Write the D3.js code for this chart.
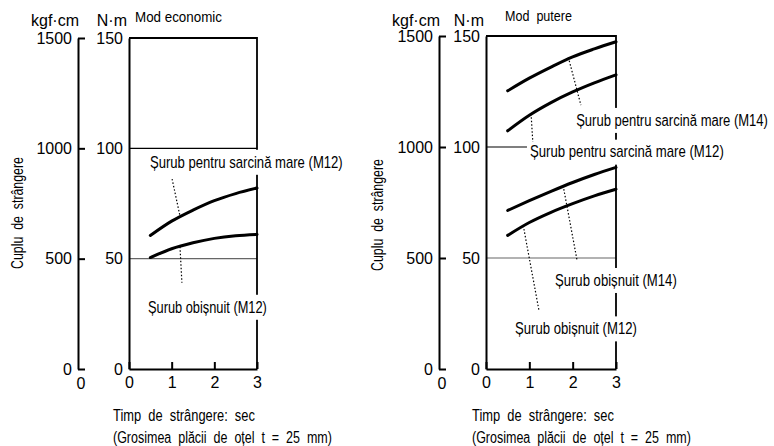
<!DOCTYPE html>
<html><head><meta charset="utf-8">
<script src="https://cdn.jsdelivr.net/npm/d3@7"></script>
<style>body{margin:0;background:#fff} svg{display:block} text{white-space:pre}</style>
</head><body>
<svg id="c" width="774" height="446"></svg>
<script>
// ---------- data ----------
const times = [0.5, 1, 1.5, 2, 2.5, 3];
const xTicks = [0, 1, 2, 3];
const nmTicks = [0, 50, 100, 150];
const kgfTicks = [0, 500, 1000, 1500];
const panelTitles = ["Mod economic", "Mod  putere"];
const yTitle = "Cuplu  de  strângere";
const xTitle1 = "Timp  de  strângere:  sec";
const xTitle2 = "(Grosimea  plăcii  de  oțel  t  =  25  mm)";

const ecoHeavyM12 = [60.5, 67, 72, 76.3, 79.5, 82];
const ecoNormalM12 = [50.5, 54.5, 57.2, 59.2, 60.4, 61];
const powHeavyM14 = [125.3, 131, 136, 140.6, 144.2, 147.4];
const powHeavyM12 = [107.3, 114.3, 120, 124.8, 128.9, 132.5];
const powNormalM14 = [71.4, 75.8, 80, 84, 87.6, 90.8];
const powNormalM12 = [60.2, 66, 70.6, 74.5, 78, 81];

const ecoNames = ["Șurub pentru sarcină mare (M12)", "Șurub obișnuit (M12)"];
const powNames = ["Șurub pentru sarcină mare (M14)", "Șurub pentru sarcină mare (M12)",
                  "Șurub obișnuit (M14)", "Șurub obișnuit (M12)"];
// annotation anchors in data units [time, N·m]
const ecoLeaders = [[1.01, 86.1, 1.195, 69.3], [1.195, 55.4, 1.24, 39.1]];
const ecoLabelPos = [[0.49, 93.9], [0.445, 28.2]];
const powLeaders = [[1.90, 140.4, 2.19, 118.9], [1.04, 115.0, 1.08, 102.3],
                    [1.78, 82.6, 2.10, 49.1], [0.86, 64.6, 1.22, 26.6]];
const powLabelPos = [[2.08, 112.2], [1.015, 97.9], [1.59, 40.1], [0.67, 18.3]];

// ---------- style / layout ----------
const NUM_FONT = "'Liberation Sans', Arial, Helvetica, sans-serif";
const TXT_FONT = "'Liberation Sans Narrow', 'Arial Narrow', 'Liberation Sans', sans-serif";
const svg = d3.select("#c");

// condensed text: natural font, squeezed horizontally to the target width
function condText(parent, str, tx, ty, w, opts = {}) {
  const t = parent.append("text").attr("font-family", TXT_FONT).attr("font-size", opts.size || 16)
    .attr("dy", "0.36em").attr("text-anchor", opts.anchor || "start").text(str);
  const nat = t.node().getComputedTextLength();
  const sx = Math.min(1, w / nat);
  t.attr("transform", `translate(${tx},${ty})` + (opts.rotate ? ` rotate(${opts.rotate})` : "") + ` scale(${sx},1)`);
  return t;
}

function panel(cfg) {
  const x = d3.scaleLinear().domain([0, 3]).range([cfg.nmX, cfg.right]);
  const y = d3.scaleLinear().domain([0, 150]).range([cfg.bottom, cfg.top]);
  const yk = d3.scaleLinear().domain([0, 1500]).range([cfg.bottom, cfg.top]);
  const g = svg.append("g");
  const gGrid = g.append("g"), gKnock = g.append("g"), gMarks = g.append("g"), gText = g.append("g");

  // gridlines
  gGrid.append("line").attr("x1", x(0)).attr("x2", x(3)).attr("y1", y(100)).attr("y2", y(100))
    .attr("stroke", "#000").attr("stroke-width", 1.2);
  gGrid.append("line").attr("x1", x(0)).attr("x2", x(3)).attr("y1", y(50)).attr("y2", y(50))
    .attr("stroke", "#666").attr("stroke-width", 1.2);
  // box top & right
  gGrid.append("path").attr("d", `M${x(0)},${y(150)}H${x(3)}V${y(0)}`)
    .attr("fill", "none").attr("stroke", "#000").attr("stroke-width", 1.8);

  // kgf axis
  const ka = g.append("g").attr("transform", `translate(${cfg.kgfX},0)`)
    .call(d3.axisRight(yk).tickValues(kgfTicks).tickSizeInner(7).tickSizeOuter(0).tickFormat(""));
  ka.selectAll("path,line").attr("stroke", "#000").attr("stroke-width", 2);
  kgfTicks.forEach(v => {
    gText.append("text").attr("x", cfg.kgfX - 6).attr("y", yk(v)).attr("dy", "0.36em")
      .attr("text-anchor", "end").attr("font-family", NUM_FONT).attr("font-size", 16).text(v);
  });
  gText.append("text").attr("x", cfg.kgfX + 3).attr("y", 383).attr("dy", "0.36em")
    .attr("text-anchor", "middle").attr("font-family", NUM_FONT).attr("font-size", 16).text("0");

  // N·m axis
  const na = g.append("g").attr("transform", `translate(${cfg.nmX},0)`)
    .call(d3.axisLeft(y).tickValues(nmTicks).tickSize(0).tickPadding(6));
  na.selectAll("path").attr("stroke", "#000").attr("stroke-width", 2);
  na.selectAll("text").attr("font-family", NUM_FONT).attr("font-size", 16).attr("fill", "#000");

  // time axis
  const xa = g.append("g").attr("transform", `translate(0,${cfg.bottom})`)
    .call(d3.axisBottom(x).tickValues(xTicks).tickFormat(d3.format("d"))
      .tickSizeInner(-7).tickSizeOuter(0).tickPadding(8));
  xa.selectAll("path,line").attr("stroke", "#000").attr("stroke-width", 2);
  xa.selectAll("text").attr("font-family", NUM_FONT).attr("font-size", 16).attr("fill", "#000");

  // unit labels & titles
  gText.append("text").attr("x", cfg.kgfX + 1).attr("y", 20).attr("dy", "0.36em").attr("text-anchor", "end")
    .attr("font-family", NUM_FONT).attr("font-size", 16).text("kgf·cm");
  gText.append("text").attr("x", cfg.nmX - 2).attr("y", 20).attr("dy", "0.36em").attr("text-anchor", "end")
    .attr("font-family", NUM_FONT).attr("font-size", 16).text("N·m");
  condText(gText, cfg.title, cfg.nmX + cfg.titleDx, cfg.titleY, cfg.titleW, {size: 15});
  condText(gText, yTitle, cfg.yTitleX, cfg.yTitleY, 112, {anchor: "middle", rotate: -90});
  condText(gText, xTitle1, cfg.nmX + cfg.xTitleDx, 415, 142);
  condText(gText, xTitle2, cfg.nmX + cfg.xTitleDx, 437, 219);

  // curves
  const line = d3.line().x((d, i) => x(times[i])).y(d => y(d)).curve(d3.curveMonotoneX);
  cfg.series.forEach(s => {
    gMarks.append("path").attr("d", line(s)).attr("fill", "none").attr("stroke", "#000")
      .attr("stroke-width", 3).attr("stroke-linecap", "round");
  });
  // leaders
  cfg.leaders.forEach(l => {
    gMarks.append("line").attr("x1", x(l[0])).attr("y1", y(l[1])).attr("x2", x(l[2])).attr("y2", y(l[3]))
      .attr("stroke", "#000").attr("stroke-width", 1.2).attr("stroke-dasharray", "1.5,2");
  });
  // labels with knockout
  cfg.names.forEach((n, i) => {
    const lx = x(cfg.labelPos[i][0]), ly = y(cfg.labelPos[i][1]), w = cfg.labelW[i];
    gKnock.append("rect").attr("x", lx - 3).attr("y", ly - 12).attr("width", w + 6).attr("height", 25)
      .attr("fill", "#fff");
    condText(gText, n, lx, ly, w);
  });
}

panel({kgfX: 78, nmX: 129, right: 257, top: 38, bottom: 369,
  title: panelTitles[0], titleDx: 6, titleY: 17, titleW: 87,
  yTitleX: 17, yTitleY: 213, xTitleDx: -16,
  series: [ecoHeavyM12, ecoNormalM12], leaders: ecoLeaders, names: ecoNames,
  labelPos: ecoLabelPos, labelW: [193, 119]});
panel({kgfX: 439, nmX: 486, right: 616, top: 36, bottom: 369,
  title: panelTitles[1], titleDx: 19, titleY: 16, titleW: 67,
  yTitleX: 377, yTitleY: 215, xTitleDx: -14,
  series: [powHeavyM14, powHeavyM12, powNormalM14, powNormalM12], leaders: powLeaders, names: powNames,
  labelPos: powLabelPos, labelW: [192, 194, 122, 122]});
</script>
</body></html>
